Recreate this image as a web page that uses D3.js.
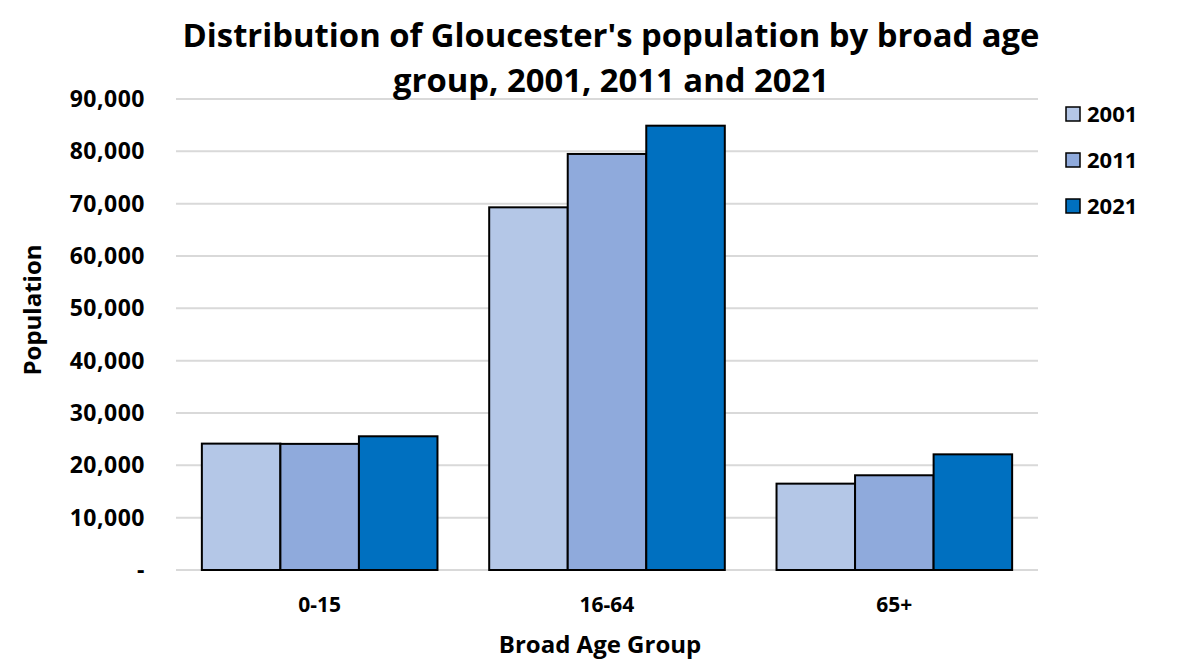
<!DOCTYPE html>
<html>
<head>
  <meta charset="utf-8">
  <title>Gloucester population by age group</title>
  <script src="https://d3js.org/d3.v7.min.js"></script>
  <style>
    body { margin: 0; background: #fff; }
    svg text { font-family: "Open Sans", "Noto Sans", sans-serif; font-weight: bold; fill: #000; }
    .grid line { stroke: #d9d9d9; stroke-width: 2px; }
  </style>
</head>
<body>
<div id="chart"></div>
<script>
// data
var groups = ["0-15", "16-64", "65+"];
var years = ["2001", "2011", "2021"];
var pop2001 = [24150, 69300, 16500];
var pop2011 = [24100, 79500, 18100];
var pop2021 = [25550, 84900, 22100];
var colors = ["#b4c7e7", "#8faadc", "#0070c0"];
var yTicks = [0, 10000, 20000, 30000, 40000, 50000, 60000, 70000, 80000, 90000];

var series = [pop2001, pop2011, pop2021];

var W = 1203, H = 664;
var margin = {top: 99, right: 165, bottom: 94, left: 176};
var width = W - margin.left - margin.right,
    height = H - margin.top - margin.bottom;

var svg = d3.select("#chart").append("svg")
    .attr("width", W)
    .attr("height", H);

var g = svg.append("g")
    .attr("transform", "translate(" + margin.left + "," + margin.top + ")");

var x0 = d3.scaleBand().domain(groups).range([0, width]).paddingInner(0.18).paddingOuter(0.09);
var x1 = d3.scaleBand().domain(years).range([0, x0.bandwidth()]);
var y = d3.scaleLinear().domain([0, 90000]).range([height, 0]);

// gridlines
g.append("g").attr("class", "grid")
  .selectAll("line")
  .data(yTicks)
  .enter().append("line")
    .attr("x1", 0)
    .attr("x2", width)
    .attr("y1", function(d) { return y(d); })
    .attr("y2", function(d) { return y(d); });

// y labels
var fmt = d3.format(",");
g.append("g")
  .selectAll("text")
  .data(yTicks)
  .enter().append("text")
    .attr("x", -31)
    .attr("y", function(d) { return y(d); })
    .attr("dy", "0.35em")
    .attr("text-anchor", "end")
    .style("font-size", "23px")
    .style("letter-spacing", "0.5px")
    .text(function(d) { return d === 0 ? "-" : fmt(d); });

// bars
var rows = [];
groups.forEach(function(grp, i) {
  years.forEach(function(yr, j) {
    rows.push({group: grp, year: yr, value: series[j][i], color: colors[j]});
  });
});

g.append("g")
  .selectAll("rect")
  .data(rows)
  .enter().append("rect")
    .attr("x", function(d) { return x0(d.group) + x1(d.year); })
    .attr("y", function(d) { return y(d.value); })
    .attr("width", x1.bandwidth())
    .attr("height", function(d) { return height - y(d.value); })
    .attr("fill", function(d) { return d.color; })
    .attr("stroke", "#000")
    .attr("stroke-width", 2);

// x labels
g.append("g")
  .selectAll("text")
  .data(groups)
  .enter().append("text")
    .attr("x", function(d) { return x0(d) + x0.bandwidth() / 2; })
    .attr("y", height + 42)
    .attr("text-anchor", "middle")
    .style("font-size", "21px")
    .text(function(d) { return d; });

// axis titles
svg.append("text")
  .attr("x", 600)
  .attr("y", 653)
  .attr("text-anchor", "middle")
  .style("font-size", "24px")
  .text("Broad Age Group");

svg.append("text")
  .attr("transform", "translate(41,310) rotate(-90)")
  .attr("text-anchor", "middle")
  .style("font-size", "24px")
  .text("Population");

// title
var title = svg.append("text")
  .attr("text-anchor", "middle")
  .style("font-size", "32.8px");
title.append("tspan").attr("x", 611).attr("y", 47).text("Distribution of Gloucester's population by broad age");
title.append("tspan").attr("x", 611).attr("y", 92).text("group, 2001, 2011 and 2021");

// legend
var legend = svg.append("g")
  .selectAll("g")
  .data(years)
  .enter().append("g")
    .attr("transform", function(d, i) { return "translate(1066," + (114 + i * 46) + ")"; });

legend.append("rect")
  .attr("x", 0)
  .attr("y", -7)
  .attr("width", 14)
  .attr("height", 14)
  .attr("fill", function(d, i) { return colors[i]; })
  .attr("stroke", "#000")
  .attr("stroke-width", 1.5);

legend.append("text")
  .attr("x", 21)
  .attr("dy", "0.35em")
  .style("font-size", "22px")
  .text(function(d) { return d; });
</script>
</body>
</html>
